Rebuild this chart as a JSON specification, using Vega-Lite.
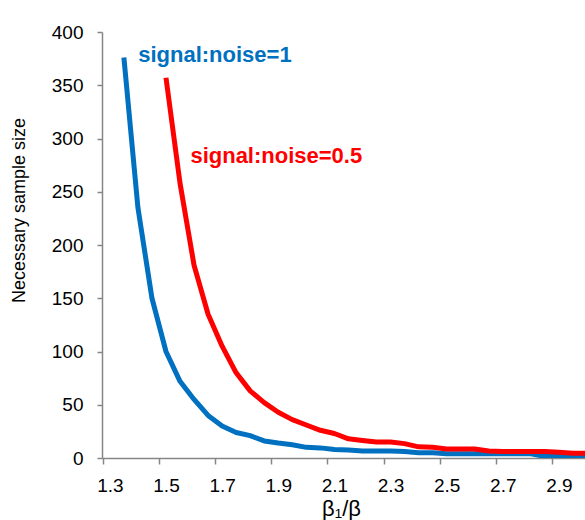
{
  "$schema": "https://vega.github.io/schema/vega-lite/v6.json",
  "width": 483,
  "height": 426,
  "autosize": "none",
  "padding": {"left": 102, "top": 32, "right": 0, "bottom": 62},
  "background": "white",
  "config": {
    "view": {"stroke": null},
    "font": "Liberation Sans",
    "axis": {
      "domainColor": "#868686",
      "tickColor": "#868686",
      "domainWidth": 1.5,
      "tickWidth": 1.5,
      "grid": false,
      "labelFont": "Liberation Sans",
      "labelColor": "#000000",
      "labelFontSize": 19,
      "titleFont": "Liberation Sans",
      "titleColor": "#000000",
      "titleFontWeight": "normal"
    }
  },
  "datasets": {
    "curves": [
      {"x": 1.35, "n": 376, "series": "signal:noise=1"},
      {"x": 1.40, "n": 235, "series": "signal:noise=1"},
      {"x": 1.45, "n": 150, "series": "signal:noise=1"},
      {"x": 1.50, "n": 100, "series": "signal:noise=1"},
      {"x": 1.55, "n": 72, "series": "signal:noise=1"},
      {"x": 1.60, "n": 55, "series": "signal:noise=1"},
      {"x": 1.65, "n": 40, "series": "signal:noise=1"},
      {"x": 1.70, "n": 30, "series": "signal:noise=1"},
      {"x": 1.75, "n": 24, "series": "signal:noise=1"},
      {"x": 1.80, "n": 21, "series": "signal:noise=1"},
      {"x": 1.85, "n": 16, "series": "signal:noise=1"},
      {"x": 1.90, "n": 14, "series": "signal:noise=1"},
      {"x": 1.95, "n": 12.5, "series": "signal:noise=1"},
      {"x": 2.00, "n": 10, "series": "signal:noise=1"},
      {"x": 2.05, "n": 9.5, "series": "signal:noise=1"},
      {"x": 2.10, "n": 8, "series": "signal:noise=1"},
      {"x": 2.15, "n": 7.5, "series": "signal:noise=1"},
      {"x": 2.20, "n": 6.5, "series": "signal:noise=1"},
      {"x": 2.25, "n": 6.5, "series": "signal:noise=1"},
      {"x": 2.30, "n": 6.5, "series": "signal:noise=1"},
      {"x": 2.35, "n": 6, "series": "signal:noise=1"},
      {"x": 2.40, "n": 5, "series": "signal:noise=1"},
      {"x": 2.45, "n": 5, "series": "signal:noise=1"},
      {"x": 2.50, "n": 4, "series": "signal:noise=1"},
      {"x": 2.55, "n": 4, "series": "signal:noise=1"},
      {"x": 2.60, "n": 4, "series": "signal:noise=1"},
      {"x": 2.65, "n": 4, "series": "signal:noise=1"},
      {"x": 2.70, "n": 4, "series": "signal:noise=1"},
      {"x": 2.75, "n": 4, "series": "signal:noise=1"},
      {"x": 2.80, "n": 4, "series": "signal:noise=1"},
      {"x": 2.85, "n": 1.5, "series": "signal:noise=1"},
      {"x": 2.90, "n": 1.5, "series": "signal:noise=1"},
      {"x": 2.95, "n": 1.5, "series": "signal:noise=1"},
      {"x": 3.00, "n": 1.5, "series": "signal:noise=1"},
      {"x": 1.50, "n": 357, "series": "signal:noise=0.5"},
      {"x": 1.55, "n": 258, "series": "signal:noise=0.5"},
      {"x": 1.60, "n": 181, "series": "signal:noise=0.5"},
      {"x": 1.65, "n": 135, "series": "signal:noise=0.5"},
      {"x": 1.70, "n": 105, "series": "signal:noise=0.5"},
      {"x": 1.75, "n": 80, "series": "signal:noise=0.5"},
      {"x": 1.80, "n": 63, "series": "signal:noise=0.5"},
      {"x": 1.85, "n": 52, "series": "signal:noise=0.5"},
      {"x": 1.90, "n": 43, "series": "signal:noise=0.5"},
      {"x": 1.95, "n": 36, "series": "signal:noise=0.5"},
      {"x": 2.00, "n": 31, "series": "signal:noise=0.5"},
      {"x": 2.05, "n": 26, "series": "signal:noise=0.5"},
      {"x": 2.10, "n": 23, "series": "signal:noise=0.5"},
      {"x": 2.15, "n": 18, "series": "signal:noise=0.5"},
      {"x": 2.20, "n": 16.5, "series": "signal:noise=0.5"},
      {"x": 2.25, "n": 15, "series": "signal:noise=0.5"},
      {"x": 2.30, "n": 15, "series": "signal:noise=0.5"},
      {"x": 2.35, "n": 13.5, "series": "signal:noise=0.5"},
      {"x": 2.40, "n": 10.5, "series": "signal:noise=0.5"},
      {"x": 2.45, "n": 10, "series": "signal:noise=0.5"},
      {"x": 2.50, "n": 8.5, "series": "signal:noise=0.5"},
      {"x": 2.55, "n": 8.5, "series": "signal:noise=0.5"},
      {"x": 2.60, "n": 8.5, "series": "signal:noise=0.5"},
      {"x": 2.65, "n": 6.5, "series": "signal:noise=0.5"},
      {"x": 2.70, "n": 6, "series": "signal:noise=0.5"},
      {"x": 2.75, "n": 6, "series": "signal:noise=0.5"},
      {"x": 2.80, "n": 6, "series": "signal:noise=0.5"},
      {"x": 2.85, "n": 6, "series": "signal:noise=0.5"},
      {"x": 2.90, "n": 5.5, "series": "signal:noise=0.5"},
      {"x": 2.95, "n": 4.5, "series": "signal:noise=0.5"},
      {"x": 3.00, "n": 4.5, "series": "signal:noise=0.5"}
    ],
    "labels": [
      {"x": 1.401, "n": 372, "series": "signal:noise=1"},
      {"x": 1.587, "n": 277, "series": "signal:noise=0.5"}
    ]
  },
  "encoding": {
    "x": {
      "field": "x",
      "type": "quantitative",
      "scale": {"domain": [1.272, 2.993], "nice": false, "zero": false},
      "axis": {
        "title": "β₁/β",
        "titleFontSize": 22,
        "titlePadding": 3,
        "titleX": 239,
        "values": [1.3, 1.5, 1.7, 1.9, 2.1, 2.3, 2.5, 2.7, 2.9],
        "format": ".1f",
        "tickSize": 6,
        "tickOffset": -7,
        "labelOffset": 7,
        "labelPadding": 12,
        "labelFlush": false
      }
    },
    "y": {
      "field": "n",
      "type": "quantitative",
      "scale": {"domain": [0, 400], "nice": false},
      "axis": {
        "title": "Necessary sample size",
        "titleFontSize": 18,
        "titleX": -74,
        "titleY": 178,
        "values": [0, 50, 100, 150, 200, 250, 300, 350, 400],
        "tickSize": 5,
        "labelPadding": 14
      }
    },
    "color": {
      "field": "series",
      "type": "nominal",
      "scale": {"domain": ["signal:noise=1", "signal:noise=0.5"], "range": ["#0070C0", "#FF0000"]},
      "legend": null
    }
  },
  "layer": [
    {
      "data": {"name": "curves"},
      "mark": {"type": "line", "strokeWidth": 5, "strokeJoin": "round", "clip": true}
    },
    {
      "data": {"name": "labels"},
      "mark": {"type": "text", "align": "left", "baseline": "alphabetic", "fontWeight": "bold", "fontSize": 22, "font": "Liberation Sans"},
      "encoding": {"text": {"field": "series"}}
    }
  ]
}
